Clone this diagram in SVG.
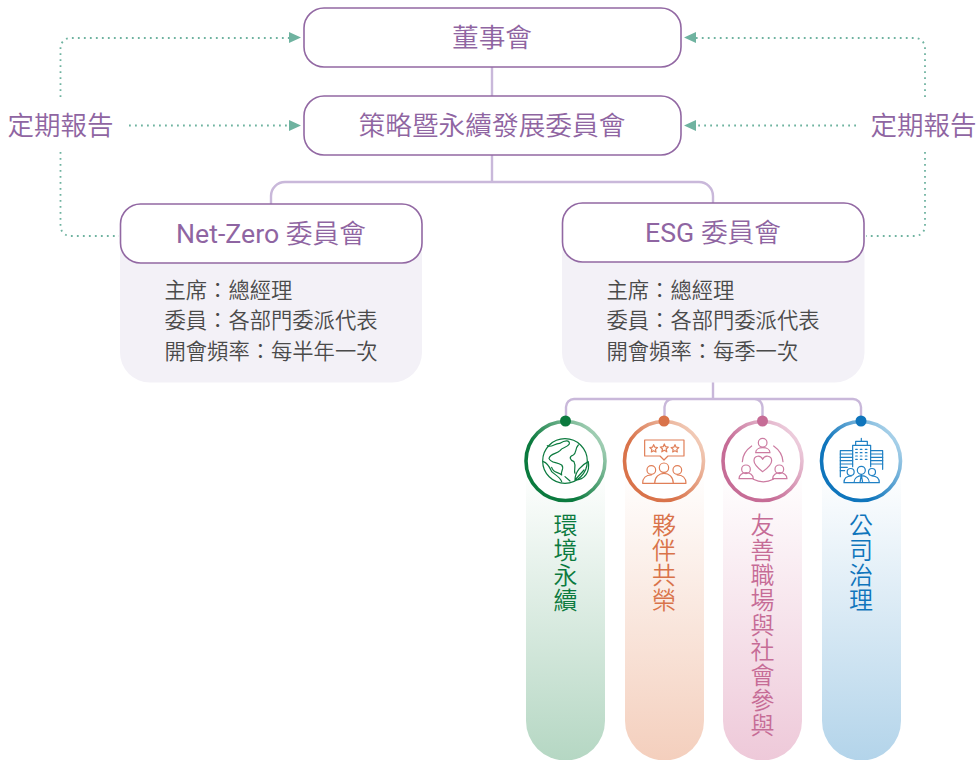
<svg xmlns="http://www.w3.org/2000/svg" width="977" height="760" viewBox="0 0 977 760">
<style>
text{font-family:Roboto,"Noto Sans CJK TC","Noto Sans CJK JP",sans-serif;font-weight:350}
.latin{font-weight:400}
.box{fill:#fff;stroke:#9268a3;stroke-width:1.6}
.panel{fill:#f3f1f7}
.title{font-size:26.700px;fill:#8f65a2;text-anchor:middle}
.report{font-size:26.500px;fill:#8f65a2;text-anchor:middle}
.body{font-size:21.300px;fill:#4a4a4a}
.tree{fill:none;stroke:#c9b8da;stroke-width:2.4}
.dot{fill:none;stroke:#6fb3a0;stroke-width:1.800;stroke-dasharray:1.800 4.200}
.arrow{fill:#6fb3a0}
.vert{font-size:24px;writing-mode:vertical-rl;letter-spacing:1px;text-anchor:start}
.ring{fill:#fff;stroke-width:3.600}
.ic{fill:none;stroke-width:3.600;stroke-linecap:round;stroke-linejoin:round}
</style>
<defs>
<linearGradient id="pg" x1="0" y1="0" x2="0" y2="1"><stop offset="0" stop-color="#fff"/><stop offset="1" stop-color="#b5d7c3"/></linearGradient>
<linearGradient id="po" x1="0" y1="0" x2="0" y2="1"><stop offset="0" stop-color="#fff"/><stop offset="1" stop-color="#f4cfbd"/></linearGradient>
<linearGradient id="pp" x1="0" y1="0" x2="0" y2="1"><stop offset="0" stop-color="#fff"/><stop offset="1" stop-color="#eec9d9"/></linearGradient>
<linearGradient id="pb" x1="0" y1="0" x2="0" y2="1"><stop offset="0" stop-color="#fff"/><stop offset="1" stop-color="#b3d4ea"/></linearGradient>
<linearGradient id="rg" x1="0.100" y1="0.800" x2="0.900" y2="0.200"><stop offset=".3" stop-color="#0b7a3e"/><stop offset="1" stop-color="#9fcdb2"/></linearGradient>
<linearGradient id="ro" x1="0.100" y1="0.800" x2="0.900" y2="0.200"><stop offset=".3" stop-color="#d9734a"/><stop offset="1" stop-color="#f1c9b5"/></linearGradient>
<linearGradient id="rp" x1="0.100" y1="0.800" x2="0.900" y2="0.200"><stop offset=".3" stop-color="#c66c96"/><stop offset="1" stop-color="#eccbdb"/></linearGradient>
<linearGradient id="rb" x1="0.100" y1="0.800" x2="0.900" y2="0.200"><stop offset=".3" stop-color="#0f75bc"/><stop offset="1" stop-color="#a5cfe8"/></linearGradient>
</defs>

<g id="pillars">
<path d="M526 470H605V721a39.500 39.500 0 0 1-79 0Z" fill="url(#pg)"/>
<path d="M625 470H704V721a39.500 39.500 0 0 1-79 0Z" fill="url(#po)"/>
<path d="M723 470H802V721a39.500 39.500 0 0 1-79 0Z" fill="url(#pp)"/>
<path d="M822 470H901V721a39.500 39.500 0 0 1-79 0Z" fill="url(#pb)"/>
</g>

<g id="connectors">
<path class="tree" d="M492 67V96M492 155V182M271 204V196a14 14 0 0 1 14-14H699a14 14 0 0 1 14 14V204"/>
<path class="tree" d="M713 382V399M566 421V407a8 8 0 0 1 8-8H853a8 8 0 0 1 8 8V421M664.500 421V407a8 8 0 0 1 8-8M754.500 399a8 8 0 0 1 8 8V421"/>
<path class="dot" d="M60.500 97V48a10 10 0 0 1 10-10H290"/>
<path class="dot" d="M129 125.500H290"/>
<path class="dot" d="M60.500 152V226a10 10 0 0 0 10 10H119"/>
<path class="dot" d="M925 97V48a10 10 0 0 0-10-10H695"/>
<path class="dot" d="M856 125.500H695"/>
<path class="dot" d="M925 152V226a10 10 0 0 1-10 10H866"/>
<path class="arrow" d="M289 32L301 37.500L289 43ZM289 120L301 125.500L289 131ZM696 32L684 37.500L696 43ZM696 120L684 125.500L696 131Z"/>
</g>

<g id="report-left"><text class="report" x="60.500" y="135">定期報告</text></g>
<g id="report-right"><text class="report" x="923.500" y="135">定期報告</text></g>

<g id="board">
<rect class="box" x="304" y="8" width="377" height="59" rx="20"/>
<text class="title" x="492" y="47">董事會</text>
</g>
<g id="strategy">
<rect class="box" x="304" y="96" width="377" height="59" rx="20"/>
<text class="title" x="492" y="135">策略暨永續發展委員會</text>
</g>

<g id="netzero">
<rect class="panel" x="120" y="225" width="302" height="157.500" rx="30"/>
<rect class="box" x="120.500" y="204" width="301.500" height="59" rx="20"/>
<text class="title" x="271" y="243"><tspan class="latin">Net-Zero </tspan>委員會</text>
<text class="body" x="164.500" y="298">主席：總經理</text>
<text class="body" x="164.500" y="328">委員：各部門委派代表</text>
<text class="body" x="164.500" y="359">開會頻率：每半年一次</text>
</g>
<g id="esg">
<rect class="panel" x="562" y="225" width="302.500" height="157.500" rx="30"/>
<rect class="box" x="562.500" y="203" width="301.500" height="59" rx="20"/>
<text class="title" x="713" y="242"><tspan class="latin">ESG </tspan>委員會</text>
<text class="body" x="606.500" y="298">主席：總經理</text>
<text class="body" x="606.500" y="328">委員：各部門委派代表</text>
<text class="body" x="606.500" y="359">開會頻率：每季一次</text>
</g>

<g id="env">
<circle class="ring" cx="565.500" cy="461" r="39.500" stroke="url(#rg)"/>
<circle cx="565.500" cy="421" r="5.500" fill="#0b7a3e"/>
<g class="ic" stroke="#0b7a3e" transform="translate(510 380) scale(.3333)">
<circle cx="165" cy="243" r="67"/>
<path d="M112 197C125 205 135 188 150 190C165 180 180 180 178 192C170 205 158 200 150 212C140 222 122 220 117 235C122 250 140 245 155 255C165 265 150 275 155 285C145 275 130 280 125 262"/>
<path d="M205 195C195 205 200 220 190 225C175 230 180 240 192 245C200 260 190 270 195 280"/>
<path d="M100 245C115 250 120 265 125 275C135 285 150 290 155 305M165 290L180 303"/>
<path d="M195 300C195 275 215 255 235 245C240 275 225 300 195 300ZM195 300L222 270"/>
</g>
<text class="vert" x="563" y="513" fill="#0b7a3e">環境永續</text>
</g>

<g id="partners">
<circle class="ring" cx="664" cy="461" r="39.500" stroke="url(#ro)"/>
<circle cx="664" cy="421" r="5.500" fill="#d9734a"/>
<g class="ic" stroke="#e07f58" transform="translate(510 380) scale(.3333)">
<path d="M404 180H522V228H474L462 240L450 228H404Z"/>
<path d="M431 194l3.500 7.500 8 1-6 5.500 1.500 8-7-4-7 4 1.500-8-6-5.500 8-1ZM463 192l3.500 8 8.500 1-6.500 6 2 8.500-7.500-4.500-7.500 4.500 2-8.500-6.500-6 8.500-1ZM495 194l3.500 7.500 8 1-6 5.500 1.500 8-7-4-7 4 1.500-8-6-5.500 8-1Z"/>
<circle cx="462" cy="263" r="14"/><circle cx="424" cy="270" r="13"/><circle cx="502" cy="270" r="13"/>
<path d="M434 310C434 270 490 270 490 310ZM434 310H398C398 295 408 285 424 285M490 310H528C528 295 518 285 502 285"/>
</g>
<text class="vert" x="661.500" y="513" fill="#d9734a">夥伴共榮</text>
</g>

<g id="workplace">
<circle class="ring" cx="762.500" cy="461" r="39.500" stroke="url(#rp)"/>
<circle cx="762.500" cy="421" r="5.500" fill="#c66c96"/>
<g class="ic" stroke="#cc7ba1" transform="translate(710 380) scale(.3333)">
<circle cx="158" cy="188" r="13"/><path d="M137 218C137 198 180 198 180 218Z"/>
<path d="M158 275C145 265 132 255 132 242C132 226 152 224 158 238C164 224 185 226 185 242C185 255 171 265 158 275Z"/>
<circle cx="108" cy="268" r="13"/><path d="M87 296C87 272 130 272 130 296Z"/>
<circle cx="208" cy="268" r="13"/><path d="M188 296C188 272 231 272 231 296Z"/>
<path d="M125 198C108 210 98 225 97 245M191 198C208 210 218 225 219 245M130 298C150 308 170 308 190 298"/>
</g>
<text class="vert" x="760" y="513" fill="#c66c96">友善職場與社會參與</text>
</g>

<g id="governance">
<circle class="ring" cx="861" cy="461" r="39.500" stroke="url(#rb)"/>
<circle cx="861" cy="421" r="5.500" fill="#0f75bc"/>
<g class="ic" stroke="#1f80c4" transform="translate(710 380) scale(.3333)">
<path d="M428 260V196H482V260M437 196V184H472V196M454 184V175"/>
<path d="M428 212H391V290M482 212H518V268"/>
<path d="M391 222H428M391 232H428M391 242H428M391 252H428M391 262H412M391 272H404M482 222H518M482 232H518M482 242H518M482 252H518"/>
<path d="M437 208h5M451 208h5M466 208h5M437 218h5M451 218h5M466 218h5M437 228h5M451 228h5M466 228h5M437 238h5M451 238h5M466 238h5"/>
<circle cx="454" cy="271" r="12"/><circle cx="422" cy="276" r="10.500"/><circle cx="486" cy="276" r="10.500"/>
<path d="M432 308C432 280 478 280 478 308ZM402 308C402 292 412 288 424 288M508 308C508 292 498 288 486 288M402 308H508M454 284L450 308M454 284L458 308"/>
</g>
<text class="vert" x="858.500" y="513" fill="#0f75bc">公司治理</text>
</g>
</svg>
